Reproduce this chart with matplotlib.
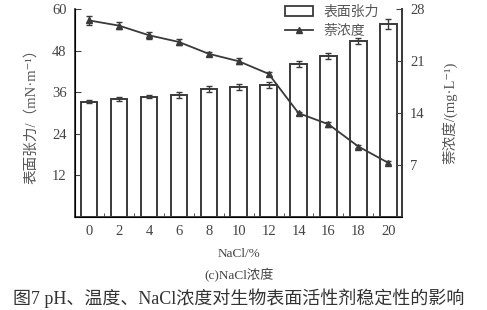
import numpy as np
import matplotlib
matplotlib.use("Agg")
import matplotlib.pyplot as plt
from matplotlib.lines import Line2D
from matplotlib.patches import Patch

plt.rcParams['font.family'] = ['Liberation Serif', 'Noto Sans CJK SC', 'DejaVu Sans']

# NaCl 浓度 (%)
nacl = ['0', '2', '4', '6', '8', '10', '12', '14', '16', '18', '20']
# 表面张力 (mN/m) 及误差
tension = [33.3, 34.0, 34.8, 35.3, 36.9, 37.6, 38.2, 44.1, 46.6, 50.8, 55.8]
tension_err = [0.5, 0.6, 0.5, 0.9, 0.8, 0.9, 0.8, 0.9, 0.9, 0.9, 1.4]
# 萘浓度 (mg/L) 及误差
naph = [26.5, 25.8, 24.5, 23.6, 22.0, 21.0, 19.3, 14.0, 12.5, 9.5, 7.3]
naph_err = [0.6, 0.5, 0.5, 0.4, 0.3, 0.4, 0.3, 0.2, 0.3, 0.2, 0.2]

ink = '#3a3a3a'
fig = plt.figure(figsize=(4.87, 3.10), dpi=100)
ax = fig.add_axes([0.154, 0.30, 0.671, 0.67])
x = np.arange(len(nacl))

ax.bar(x, tension, width=0.55, color='white', edgecolor=ink, linewidth=1.4,
       yerr=tension_err, error_kw=dict(ecolor=ink, elinewidth=1.0, capsize=2, capthick=1.0))
ax.set_ylim(0, 60)
ax.set_yticks([12, 24, 36, 48, 60])
ax.set_xlim(-0.47, 10.45)
ax.set_xticks(x)
ax.set_xticklabels(nacl)
ax.set_xticks(x[:-1] + 0.5, minor=True)
ax.tick_params(axis='x', which='major', length=0, pad=6, labelsize=10.5, colors='#444444')
ax.tick_params(axis='x', which='minor', direction='in', length=3, color=ink)
ax.tick_params(axis='y', direction='in', length=4, labelsize=10.5, colors='#444444', pad=6)
ax.spines['top'].set_visible(False)
for s in ['left', 'bottom', 'right']:
    ax.spines[s].set_color(ink)
    ax.spines[s].set_linewidth(1.3)
ax.set_ylabel('表面张力/（mN·m⁻¹）', fontsize=10.5, color='#555555', labelpad=10)

ax2 = ax.twinx()
ax2.errorbar(x, naph, yerr=naph_err, color=ink, marker='^', markersize=5, linewidth=1.3,
             capsize=2, elinewidth=1.0)
ax2.set_ylim(0, 28)
ax2.set_yticks([7, 14, 21, 28])
ax2.tick_params(axis='y', direction='in', length=4, labelsize=10.5, colors='#444444', pad=6)
ax2.spines['top'].set_visible(False)
ax2.spines['right'].set_color(ink)
ax2.spines['right'].set_linewidth(1.3)
ax2.set_ylabel('萘浓度/(mg·L⁻¹)', fontsize=10.5, color='#555555', labelpad=12)

handles = [Patch(facecolor='white', edgecolor=ink, linewidth=1.3),
           Line2D([], [], color=ink, marker='^', markersize=5, linewidth=1.3)]
ax2.legend(handles, ['表面张力', '萘浓度'], loc='upper right', bbox_to_anchor=(0.97, 1.08),
           frameon=False, fontsize=10, handlelength=2.0, labelspacing=0.45,
           labelcolor='#555555')

fig.text(0.49, 0.172, 'NaCl/%', ha='center', fontsize=9.5, color='#444444')
fig.text(0.49, 0.1, '(c)NaCl浓度', ha='center', fontsize=9.5, color='#444444')
fig.text(0.49, 0.02, '图7 pH、温度、NaCl浓度对生物表面活性剂稳定性的影响', ha='center',
         fontsize=13, color='#333333')

fig.savefig('out.png', dpi=100)
